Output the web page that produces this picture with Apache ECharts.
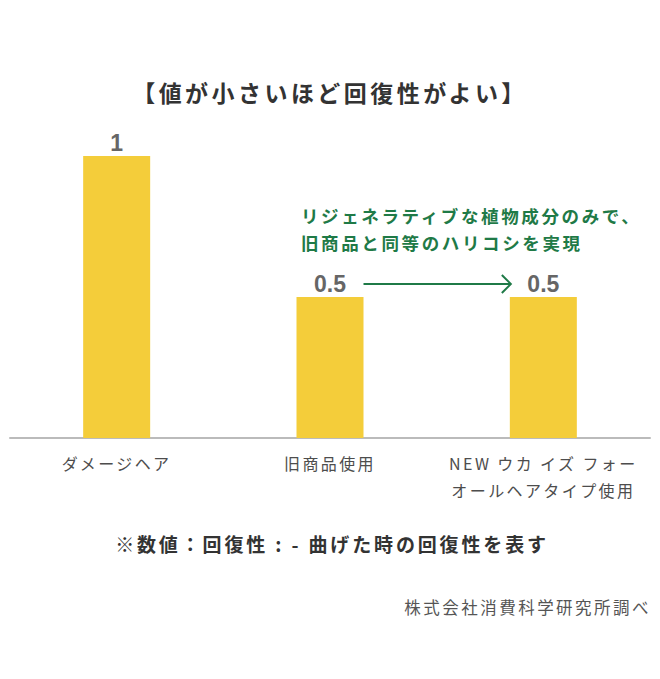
<!DOCTYPE html>
<html>
<head>
<meta charset="utf-8">
<script src="https://cdn.jsdelivr.net/npm/echarts@6/dist/echarts.min.js"></script>
<style>
  html, body { margin: 0; padding: 0; background: #fff; }
  #main { width: 660px; height: 679px; }
  /* 日本語テキストは字間を広めに */
  #main text { letter-spacing: 0.15em; }
  #main text[style*="Liberation"] { letter-spacing: 0; }
</style>
</head>
<body>
<div id="main"></div>
<script>
// データ
var categories = ['ダメージヘア', '旧商品使用', 'NEW ウカ イズ フォー\nオールヘアタイプ使用'];
var values = [1, 0.5, 0.5];
var noteLines = ['リジェネラティブな植物成分のみで、', '旧商品と同等のハリコシを実現'];

var FONT = '"Noto Sans CJK JP", "Noto Sans", sans-serif';
var green = '#1f7a47';
var BAR_W = 67;

var myChart = echarts.init(document.getElementById('main'), null, { renderer: 'svg' });

var option = {
    animation: false,
    grid: { left: 10, right: 10, top: 156, bottom: 241 },
    xAxis: {
        type: 'category',
        data: categories,
        axisLine: { lineStyle: { color: '#bbb', width: 2 } },
        axisTick: { show: false },
        axisLabel: {
            margin: 11,
            fontFamily: FONT,
            fontSize: 16,
            color: '#4d4d4d',
            lineHeight: 27,
            interval: 0
        }
    },
    yAxis: {
        type: 'value',
        min: 0,
        max: 1,
        show: false,
        splitLine: { show: false }
    },
    series: [{
        type: 'bar',
        data: values,
        barWidth: BAR_W,
        itemStyle: { color: '#f4cd3a' },
        label: {
            show: true,
            position: 'top',
            distance: 2,
            fontFamily: '"Liberation Sans", Arial, sans-serif',
            fontWeight: 'bold',
            fontSize: 23,
            color: '#666'
        }
    }],
    graphic: [
        {
            id: 'title',
            type: 'text',
            x: 330,
            y: 92,
            style: {
                text: '【値が小さいほど回復性がよい】',
                align: 'center',
                verticalAlign: 'middle',
                fontFamily: FONT,
                fontSize: 23,
                fontWeight: 'bold',
                fill: '#333'
            }
        },
        {
            id: 'note',
            type: 'text',
            x: 301,
            y: 229,
            style: {
                text: noteLines.join('\n'),
                align: 'left',
                verticalAlign: 'middle',
                fontFamily: FONT,
                fontSize: 17.5,
                fontWeight: 'bold',
                lineHeight: 27,
                fill: green
            }
        },
        {
            id: 'footnote',
            type: 'text',
            x: 332,
            y: 543,
            style: {
                text: '※数値：回復性 : - 曲げた時の回復性を表す',
                align: 'center',
                verticalAlign: 'middle',
                fontFamily: FONT,
                fontSize: 19,
                fontWeight: 'bold',
                fill: '#333'
            }
        },
        {
            id: 'source',
            type: 'text',
            x: 651,
            y: 607,
            style: {
                text: '株式会社消費科学研究所調べ',
                align: 'right',
                verticalAlign: 'middle',
                fontFamily: FONT,
                fontSize: 16.5,
                fill: '#555'
            }
        }
    ]
};

myChart.setOption(option);

// 矢印：旧商品のバー右端から新商品のバー左端まで
(function drawArrow() {
    var half = BAR_W / 2;
    var p1 = myChart.convertToPixel({ seriesIndex: 0 }, [1, values[1]]);
    var p2 = myChart.convertToPixel({ seriesIndex: 0 }, [2, values[2]]);
    var y = p1[1] - 13;
    var x1 = p1[0] + half;
    var x2 = p2[0] - half + 1;
    myChart.setOption({
        graphic: [
            {
                id: 'arrowLine',
                type: 'line',
                shape: { x1: x1, y1: y, x2: x2, y2: y },
                style: { stroke: green, lineWidth: 2 }
            },
            {
                id: 'arrowHead',
                type: 'polyline',
                shape: { points: [[x2 - 9, y - 9], [x2, y], [x2 - 9, y + 9]] },
                style: { stroke: green, lineWidth: 2, fill: null }
            }
        ]
    });
})();
</script>
</body>
</html>
